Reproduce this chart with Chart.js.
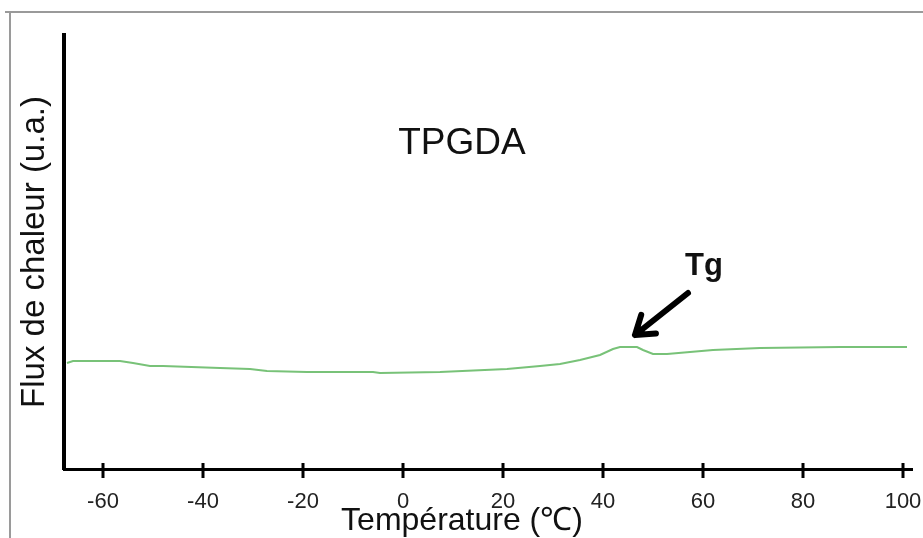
<!DOCTYPE html>
<html>
<head>
<meta charset="utf-8">
<script src="https://cdn.jsdelivr.net/npm/chart.js@4.4.0/dist/chart.umd.min.js"></script>
<style>
  body { margin: 0; background: #fff; }
  #wrap { position: relative; width: 923px; height: 538px; }
</style>
</head>
<body>
<div id="wrap"><canvas id="chart"></canvas></div>
<script>
// DSC trace (temperature in °C, heat flow in a.u.)
const TEMPS = [-67.2, -66, -62, -56.6, -54, -50.6, -48, -36.6, -30.6, -27.2, -19.2, -6, -4.6, 7.4, 20.8,
               27.4, 31.4, 35.4, 39.4, 42, 43.4, 46.8, 48, 50, 52.8, 57.4, 62, 71.4, 87.4, 100.8];
const FLUX = [106, 108, 108, 108, 106, 103, 103, 101, 100, 98, 97, 97, 96, 97, 100,
              103, 105, 109, 114, 120, 122, 122, 119, 115, 115, 117, 119, 121, 122, 122];
const X_TICKS = [-60, -40, -20, 0, 20, 40, 60, 80, 100];

const SAMPLE_LABEL = 'TPGDA';
const TG_LABEL = 'Tg';
// annotation anchors, in data units
const SAMPLE_POS = [11.8, 325];
const TG_POS = [60.2, 203];
const ARROW_FROM = [57, 176];
const ARROW_TO = [46.4, 134];

const FONT = '"Liberation Sans", Arial, sans-serif';

// frame, crossing tick marks, x title and the Tg annotation
const decorations = {
    id: 'decorations',
    beforeDraw(chart) {
        const ctx = chart.ctx;
        ctx.save();
        ctx.strokeStyle = '#9a9a9a';
        ctx.lineWidth = 2;
        ctx.beginPath();
        ctx.moveTo(5, 12);
        ctx.lineTo(chart.width, 12);
        ctx.moveTo(10, 12);
        ctx.lineTo(10, chart.height);
        ctx.stroke();
        ctx.restore();
    },
    afterDraw(chart) {
        const ctx = chart.ctx;
        const xs = chart.scales.x;
        const ys = chart.scales.y;
        const base = chart.chartArea.bottom;
        ctx.save();

        // ticks crossing the axis
        ctx.strokeStyle = '#000';
        ctx.lineWidth = 3;
        X_TICKS.forEach(v => {
            const px = xs.getPixelForValue(v);
            ctx.beginPath();
            ctx.moveTo(px, base - 6);
            ctx.lineTo(px, base + 9);
            ctx.stroke();
        });

        // x axis title
        ctx.fillStyle = '#111';
        ctx.font = '32px ' + FONT;
        ctx.textAlign = 'center';
        ctx.textBaseline = 'middle';
        ctx.fillText('Température (℃)', 462, 521);

        // sample name
        ctx.font = '37px ' + FONT;
        ctx.fillText(SAMPLE_LABEL, xs.getPixelForValue(SAMPLE_POS[0]), ys.getPixelForValue(SAMPLE_POS[1]));

        // Tg label
        ctx.font = 'bold 31px ' + FONT;
        ctx.fillText(TG_LABEL, xs.getPixelForValue(TG_POS[0]), ys.getPixelForValue(TG_POS[1]));

        // arrow
        const x1 = xs.getPixelForValue(ARROW_FROM[0]), y1 = ys.getPixelForValue(ARROW_FROM[1]);
        const x2 = xs.getPixelForValue(ARROW_TO[0]), y2 = ys.getPixelForValue(ARROW_TO[1]);
        const ang = Math.atan2(y2 - y1, x2 - x1);
        const head = 21;
        ctx.strokeStyle = '#000';
        ctx.lineWidth = 6;
        ctx.lineCap = 'round';
        ctx.lineJoin = 'round';
        ctx.beginPath();
        ctx.moveTo(x1, y1);
        ctx.lineTo(x2, y2);
        ctx.moveTo(x2 - head * Math.cos(ang - 0.6), y2 - head * Math.sin(ang - 0.6));
        ctx.lineTo(x2, y2);
        ctx.lineTo(x2 - head * Math.cos(ang + 0.6), y2 - head * Math.sin(ang + 0.6));
        ctx.stroke();
        ctx.restore();
    }
};

new Chart(document.getElementById('chart'), {
    type: 'line',
    data: {
        datasets: [{
            label: SAMPLE_LABEL,
            data: TEMPS.map((t, i) => ({ x: t, y: FLUX[i] })),
            borderColor: 'rgb(120, 194, 120)',
            borderWidth: 2,
            pointRadius: 0,
            tension: 0
        }]
    },
    options: {
        responsive: true,
        maintainAspectRatio: false,
        animation: false,
        layout: { padding: { left: 0, top: 35, right: 11, bottom: 0 } },
        plugins: {
            legend: { display: false },
            tooltip: { enabled: false }
        },
        scales: {
            x: {
                type: 'linear',
                min: -67.8,
                max: 101.8,
                afterBuildTicks: s => { s.ticks = X_TICKS.map(v => ({ value: v })); },
                afterFit: s => { s.height = 69; s.paddingLeft = 0; s.paddingRight = 0; },
                grid: { display: false, drawTicks: false },
                border: { display: true, color: '#000', width: 3 },
                ticks: {
                    padding: 20,
                    color: '#222',
                    font: { family: FONT, size: 22 }
                }
            },
            y: {
                min: 0,
                max: 434,
                afterFit: s => { s.width = 64; s.paddingTop = 0; s.paddingBottom = 0; },
                grid: { display: false, drawTicks: false },
                border: { display: true, color: '#000', width: 4 },
                ticks: { display: false },
                title: {
                    display: true,
                    text: 'Flux de chaleur (u.a.)',
                    color: '#111',
                    padding: { top: 15, bottom: 0 },
                    font: { family: FONT, size: 33 }
                }
            }
        }
    },
    plugins: [decorations]
});
</script>
</body>
</html>
